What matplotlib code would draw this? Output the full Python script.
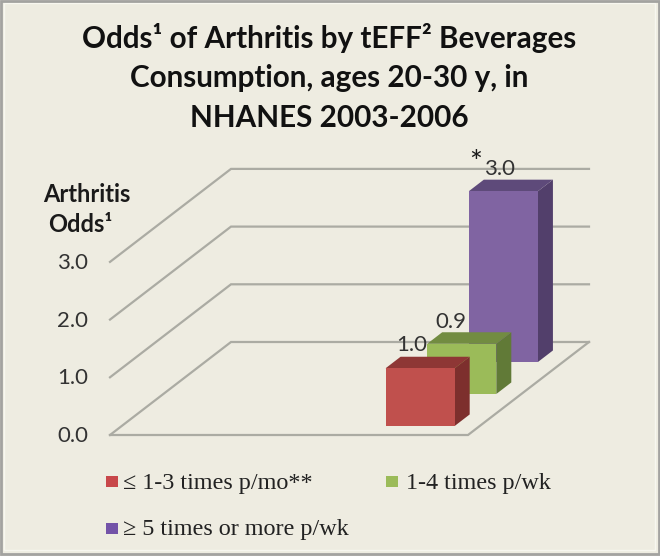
import matplotlib
matplotlib.use("Agg")
import matplotlib.pyplot as plt
from matplotlib.patches import Polygon, Rectangle

# data
groups = ["\u2264 1-3 times p/mo**", "1-4 times p/wk", "\u2265 5 times or more p/wk"]
odds_drawn = [1.0, 0.87, 2.96]
value_labels = ["1.0", "0.9", "3.0"]
ticks = [0, 1, 2, 3]
tick_labels = ["0.0", "1.0", "2.0", "3.0"]

front_colors = ["#C0504D", "#9BBB59", "#8064A2"]
top_colors = ["#8E3735", "#728C41", "#5E4A7A"]
side_colors = ["#7D2F2D", "#617A37", "#523F6B"]
legend_colors = ["#C8474A", "#9BBB59", "#7353A8"]

bg = "#EEECE1"
grid_color = "#ABABA3"
text_color = "#1A1A1A"

# floor corners and scale of the 3d box, in picture pixels
x0, y0 = 110, 435
floor_w = 358
back_dx, back_dy = 121, 93
unit_h = 57.7


def project(x, depth, value):
    # x and depth are 0-1 fractions of the floor
    return (x0 + x * floor_w + depth * back_dx,
            y0 - depth * back_dy - value * unit_h)


plt.rcParams["font.family"] = ["Lato", "DejaVu Sans"]

fig = plt.figure(figsize=(6.6, 5.56), dpi=100, facecolor=bg)
ax = fig.add_axes([0, 0, 1, 1])
ax.set_xlim(0, 660)
ax.set_ylim(556, 0)
ax.axis("off")

# picture frame: grey edge with a light line inside it
ax.add_patch(Rectangle((4, 3), 651, 547, fc="none", ec="#F8F7F0", lw=1, zorder=0))
ax.add_patch(Rectangle((1, 0.5), 658, 553, fc="none", ec="#A3A3A0", lw=2, zorder=0))

# gridlines on the left and back walls
for t in ticks:
    pts = [project(0, 0, t), project(0, 1, t), project(1, 1, t)]
    ax.plot(*zip(*pts), color=grid_color, lw=1.6, solid_joinstyle="miter", zorder=1)
# floor
floor = [project(0, 0, 0), project(1, 0, 0), project(1, 1, 0)]
ax.plot(*zip(*floor), color=grid_color, lw=1.6, solid_joinstyle="miter", zorder=1)

for t, lab in zip(ticks, tick_labels):
    ax.text(88, y0 - t * unit_h + 1, lab, ha="right", va="center",
            fontsize=16, color="#333333")

# bars, back one first
bar_x = 0.737
bar_w = 0.193
bar_d = 0.124
for i in [2, 1, 0]:
    d = 0.097 + i * 0.344
    v = odds_drawn[i]
    front = [project(bar_x, d, 0), project(bar_x + bar_w, d, 0),
             project(bar_x + bar_w, d, v), project(bar_x, d, v)]
    top = [project(bar_x, d, v), project(bar_x + bar_w, d, v),
           project(bar_x + bar_w, d + bar_d, v), project(bar_x, d + bar_d, v)]
    side = [project(bar_x + bar_w, d, 0), project(bar_x + bar_w, d + bar_d, 0),
            project(bar_x + bar_w, d + bar_d, v), project(bar_x + bar_w, d, v)]
    z = 5 - i
    ax.add_patch(Polygon(side, closed=True, fc=side_colors[i], ec="none", zorder=z))
    ax.add_patch(Polygon(top, closed=True, fc=top_colors[i], ec="none", zorder=z))
    ax.add_patch(Polygon(front, closed=True, fc=front_colors[i], ec="none", zorder=z))

    lx, ly = project(bar_x + bar_w / 2, d, v)
    off = [(-8, -23), (-11, -22), (-4, -22)][i]
    ax.text(lx + off[0], ly + off[1], value_labels[i], ha="center", va="center",
            fontsize=16, color="#333333", zorder=8)

ax.text(476, 163, "*", ha="center", va="center", fontsize=22, color=text_color, zorder=8)

# title
title_lines = ["Odds\u00b9 of Arthritis by tEFF\u00b2 Beverages",
               "Consumption, ages 20-30 y, in",
               "NHANES 2003-2006"]
for y, line in zip([38, 78, 118], title_lines):
    ax.text(329, y, line, ha="center", va="center", fontsize=21.3,
            fontweight="bold", color="#111111")

# axis title
ax.text(87, 194, "Arthritis", ha="center", va="center", fontsize=17,
        fontweight="bold", color=text_color)
ax.text(80, 225, "Odds\u00b9", ha="center", va="center", fontsize=17,
        fontweight="bold", color=text_color)

# legend
legend_pos = [(106, 476), (386, 476), (106, 523)]
text_off = [17, 20, 17]
for (lx, ly), off, col, name in zip(legend_pos, text_off, legend_colors, groups):
    ax.add_patch(Rectangle((lx, ly), 12, 11, fc=col, ec="none"))
    ax.text(lx + off, ly + 7, name, ha="left", va="center", fontsize=17.4,
            family="Liberation Serif", color="#222222")

fig.savefig("out.png", dpi=100, facecolor=bg)
